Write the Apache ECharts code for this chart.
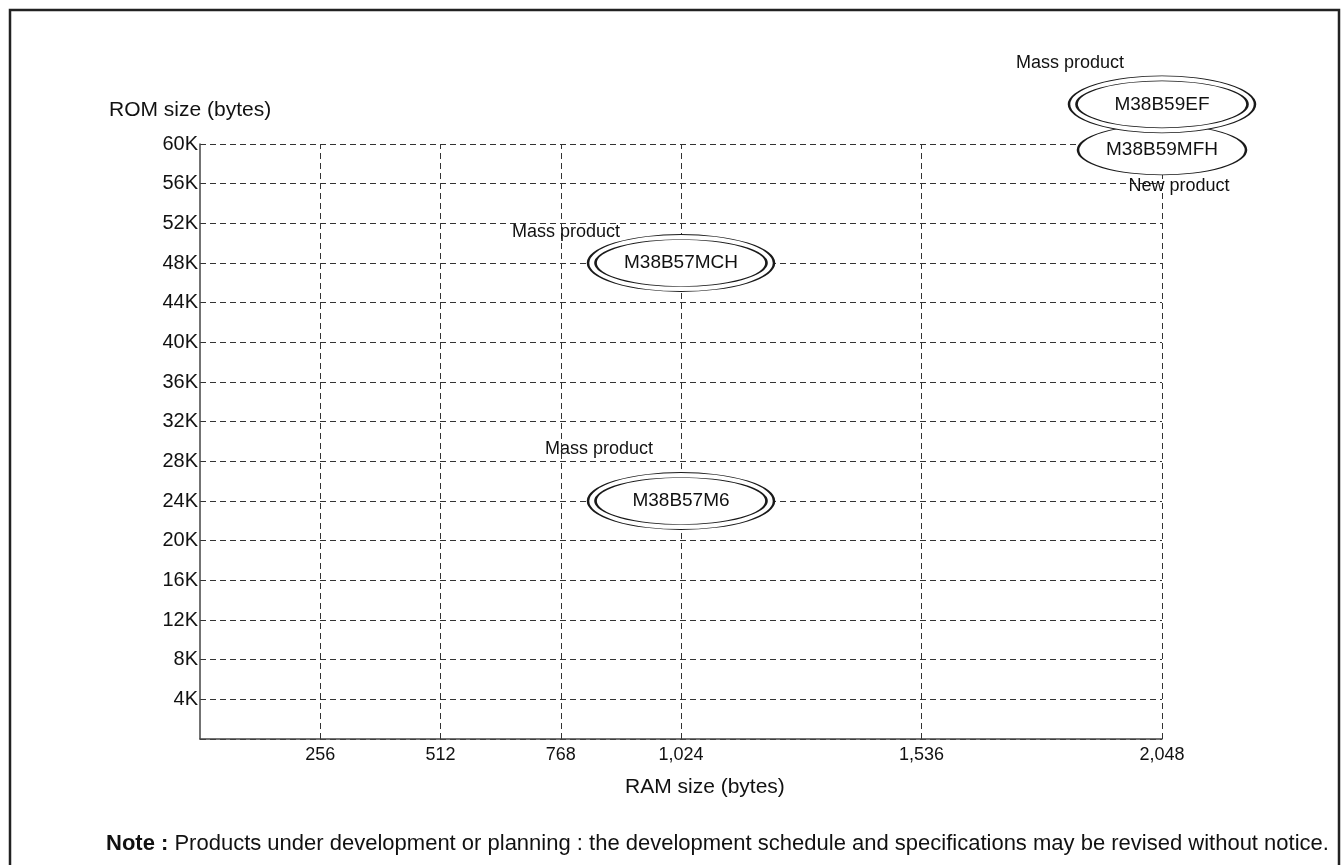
<!DOCTYPE html>
<html><head><meta charset="utf-8">
<script src="https://cdn.jsdelivr.net/npm/echarts@6/dist/echarts.min.js"></script>
<style>html,body{margin:0;padding:0;background:#fff}#c{width:1344px;height:865px}</style>
</head><body><div id="c"></div>
<script>
// ---- data ----
const products   = ['M38B59EF', 'M38B59MFH', 'M38B57MCH', 'M38B57M6'];
const ramBytes   = [2048, 2048, 1024, 1024];
const romKBytes  = [64, 59.4, 48, 24];
const statusText = ['Mass product', 'New product', 'Mass product', 'Mass product'];
const doubleRing = [true, false, true, true];
const xTickValues = [256, 512, 768, 1024, 1536, 2048];
const yTickValues = [4, 8, 12, 16, 20, 24, 28, 32, 36, 40, 44, 48, 52, 56, 60];

// ---- styles ----
const FONT = '"Liberation Sans", Arial, Helvetica, sans-serif';
const tagOffsets = [[-92, -41], [17, 36], [-115, -31], [-82, -52]];
const INK = '#1a1a1a';

function fmtThousands(v) { return String(v).replace(/\B(?=(\d{3})+(?!\d))/g, ','); }

const idx = products.map((_, i) => i);
const dbl = idx.filter(i => doubleRing[i]);
const sgl = idx.filter(i => !doubleRing[i]);
const pt = i => ({ name: products[i], value: [ramBytes[i], romKBytes[i]] });

const chart = echarts.init(document.getElementById('c'), null, { renderer: 'canvas' });
chart.setOption({
  animation: false,
  backgroundColor: '#fff',
  grid: { left: 200, right: 182, top: 144, bottom: 126, containLabel: false },
  xAxis: {
    type: 'value', min: 0, max: 2048, interval: 256,
    axisLine: { show: true, lineStyle: { color: '#444', width: 1.5 } },
    axisTick: { show: false },
    splitLine: { show: false },
    axisLabel: {
      margin: 7, fontSize: 18, color: '#111', fontFamily: FONT,
      formatter: v => xTickValues.includes(v) ? fmtThousands(v) : ''
    }
  },
  yAxis: {
    type: 'value', min: 0, max: 60, interval: 4,
    axisLine: { show: true, lineStyle: { color: '#444', width: 1.5 } },
    axisTick: { show: false },
    splitLine: { show: true, lineStyle: { color: '#333', width: 1, type: [6, 4] } },
    axisLabel: {
      margin: 2, fontSize: 20, color: '#111', fontFamily: FONT,
      formatter: v => yTickValues.includes(v) ? v + 'K' : ''
    }
  },
  graphic: [
    { type: 'rect', silent: true, shape: { x: 10, y: 10, width: 1329, height: 900 },
      style: { fill: 'none', stroke: '#222', lineWidth: 2.5 } },
    { type: 'text', left: 109, top: 100, silent: true,
      style: { text: 'ROM size (bytes)', fontSize: 21, fontFamily: FONT, fill: '#111' } },
    { type: 'text', left: 625, top: 777, silent: true,
      style: { text: 'RAM size (bytes)', fontSize: 21, fontFamily: FONT, fill: '#111' } },
    { type: 'text', left: 106, top: 833, silent: true,
      style: {
        text: '{b|Note :} {n|Products under development or planning : the development schedule and specifications may be revised without notice.}',
        fontSize: 22, fontFamily: FONT, fill: '#111',
        rich: {
          b: { fontWeight: 'bold', fontSize: 22, fontFamily: FONT, fill: '#111' },
          n: { fontSize: 22, fontFamily: FONT, fill: '#111' }
        }
      } }
  ],
  series: [
    { // vertical grid lines
      type: 'scatter', silent: true, data: [], clip: false,
      markLine: {
        z: 1, silent: true, symbol: 'none', label: { show: false },
        lineStyle: { color: '#333', width: 1, type: [6, 4] },
        data: xTickValues.map(v => ({ xAxis: v }))
      }
    },
    { // single ellipse (new product)
      type: 'scatter', silent: true, clip: false,
      symbol: 'circle', symbolSize: [168, 50],
      itemStyle: { color: '#fff', borderColor: INK, borderWidth: 1.4, opacity: 1 },
      label: { show: true, position: 'inside', formatter: '{b}', fontSize: 19, color: '#111', fontFamily: FONT },
      data: sgl.map(pt)
    },
    { // outer ring
      type: 'scatter', silent: true, clip: false,
      symbol: 'circle', symbolSize: [186, 57],
      itemStyle: { color: '#fff', borderColor: INK, borderWidth: 1.4, opacity: 1 },
      data: dbl.map(pt)
    },
    { // inner ring
      type: 'scatter', silent: true, clip: false,
      symbol: 'circle', symbolSize: [171, 47],
      itemStyle: { color: '#fff', borderColor: INK, borderWidth: 1.4, opacity: 1 },
      label: { show: true, position: 'inside', formatter: '{b}', fontSize: 19, color: '#111', fontFamily: FONT },
      data: dbl.map(pt)
    },
    { // status tags
      type: 'scatter', silent: true, clip: false,
      symbol: 'circle', symbolSize: 0,
      itemStyle: { color: '#fff', opacity: 1 },
      data: idx.map(i => ({
        name: statusText[i], value: [ramBytes[i], romKBytes[i]],
        label: { offset: tagOffsets[i] }
      })),
      label: { show: true, position: 'inside', formatter: '{b}', fontSize: 18, color: '#111', fontFamily: FONT, opacity: 1 }
    }
  ]
});
</script>
</body></html>
